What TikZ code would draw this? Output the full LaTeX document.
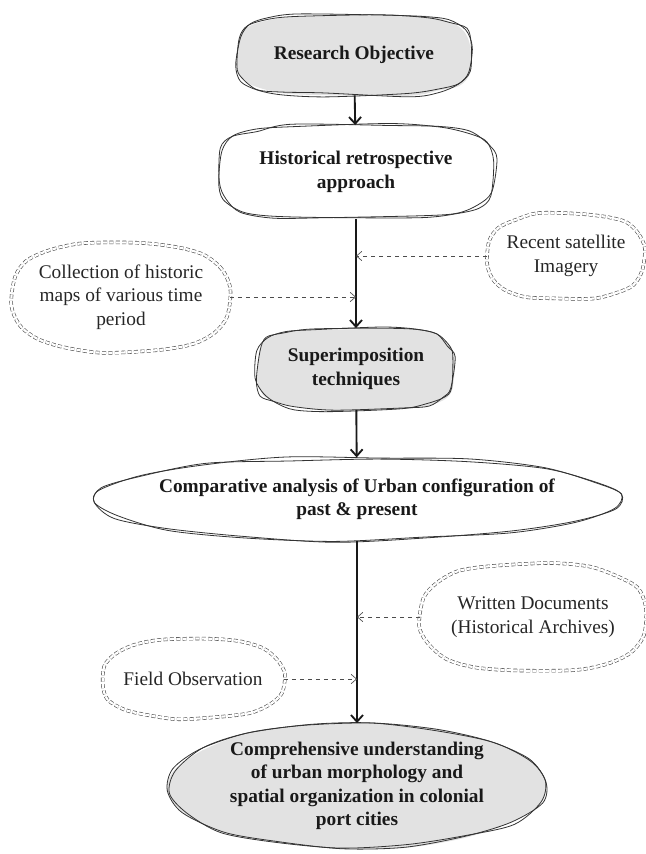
\documentclass[tikz,border=0pt]{standalone}
\usepackage{fontspec}
\setmainfont{Liberation Serif}
\usetikzlibrary{positioning,arrows.meta,calc,backgrounds}
\definecolor{blobgrey}{HTML}{E2E2E2}

\tikzset{wobble/.store in=\sketchamp, wobble=1.8pt}

% hand-drawn superellipse round a node: [style]{node}{exponent}
\newcommand\sketchline[3][]{%
  \path[#1, shift={(#2.center)}] let \p1=($(#2.north east)-(#2.center)$) in
    plot[smooth cycle, variable=\t, domain=5:345, samples=18]
    ({\x1*cos(\t)*abs(cos(\t))^(2/#3-1)+\sketchamp*rand},
     {\y1*sin(\t)*abs(sin(\t))^(2/#3-1)+\sketchamp*rand});
}

\begin{document}
\pgfmathsetseed{5}
\begin{tikzpicture}[
    x=0.75pt, y=-0.75pt,
    font=\fontsize{14.5}{17.5}\selectfont,
    box/.style={inner sep=0pt, align=center, font=\fontsize{14.5}{17.5}\selectfont\bfseries,
                text=black!90},
    src/.style={inner sep=0pt, align=center, text=black!85},
    pen/.style={draw=black!80, line width=0.6pt},
    dpen/.style={draw=black!70, line width=0.45pt, double=white, wobble=0.9pt,
                 double distance=1.7pt, dash pattern=on 3pt off 1.8pt},
    main/.style={-{Straight Barb[length=5pt,width=9pt]}, line width=1.4pt, black!90},
    feed/.style={-{Straight Barb[length=4pt,width=7pt]}, dashed, black!70,
                 line width=0.5pt},
  ]
  \useasboundingbox (0,0) rectangle (646,854);

  % --- main column ---
  \node[box, minimum width=176pt, minimum height=60pt] (obj) at (354,55) {Research Objective};
  \node[box, minimum width=208pt, minimum height=70pt] (hist) at (356,172) {Historical retrospective\\approach};
  \node[box, minimum width=148pt, minimum height=61pt] (sup) at (356,369) {Superimposition\\techniques};
  \node[box, minimum width=398pt, minimum height=62pt] (comp) at (357,499) {Comparative analysis of Urban configuration of\\past \& present};
  \node[box, minimum width=285pt, minimum height=94pt] (final) at (357,786) {Comprehensive understanding\\of urban morphology and\\spatial organization in colonial\\port cities};

  \begin{scope}[on background layer]
    \sketchline[fill=blobgrey, wobble=1pt]{obj}{3.5}
    \sketchline[fill=blobgrey, wobble=1pt]{sup}{3.5}
    \sketchline[fill=blobgrey, wobble=1pt]{final}{2}
  \end{scope}
  \sketchline[pen]{obj}{3.5}   \sketchline[pen]{obj}{3.5}
  \sketchline[pen]{hist}{3.5}  \sketchline[pen]{hist}{3.5}
  \sketchline[pen]{sup}{3.5}   \sketchline[pen]{sup}{3.5}
  \sketchline[pen]{comp}{2}    \sketchline[pen]{comp}{2}
  \sketchline[pen]{final}{2}   \sketchline[pen]{final}{2}

  \draw[main] (obj) -- (hist);
  \draw[main] (hist) -- (sup);
  \draw[main] (sup) -- (comp);
  \draw[main] (comp) -- (final);

  % --- sources feeding the chain ---
  \node[src, minimum width=118pt, minimum height=64pt] (sat) at (566,256) {Recent satellite\\Imagery};
  \node[src, minimum width=163pt, minimum height=82pt] (maps) at (121,297) {Collection of historic\\maps of various time\\period};
  \node[src, minimum width=169pt, minimum height=80pt] (docs) at (533,617) {Written Documents\\(Historical Archives)};
  \node[src, minimum width=136pt, minimum height=59pt] (field) at (193,679) {Field Observation};

  \sketchline[dpen]{sat}{2.6}
  \sketchline[dpen]{maps}{2.6}
  \sketchline[dpen]{docs}{2.6}
  \sketchline[dpen]{field}{2.6}

  \coordinate (jsat) at (hist.south |- sat.west);
  \coordinate (jmaps) at (hist.south |- maps.east);
  \coordinate (jdocs) at (final.north |- docs.west);
  \coordinate (jfield) at (final.north |- field.east);

  \draw[feed] (sat.west) -- (jsat);
  \draw[feed] (maps.east) -- (jmaps);
  \draw[feed] (docs.west) -- (jdocs);
  \draw[feed] (field.east) -- (jfield);
\end{tikzpicture}
\end{document}
